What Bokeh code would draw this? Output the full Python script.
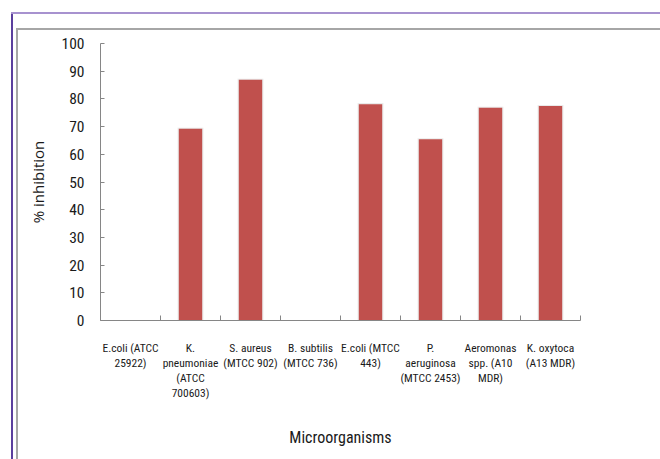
from bokeh.plotting import figure
from bokeh.models import FixedTicker, Range1d, ColumnDataSource
from bokeh.embed import file_html
from bokeh.resources import INLINE
import numpy as np

categories = [
    "E.coli (ATCC\n25922)",
    "K.\npneumoniae\n(ATCC\n700603)",
    "S. aureus\n(MTCC 902)",
    "B. subtilis\n(MTCC 736)",
    "E.coli (MTCC\n443)",
    "P.\naeruginosa\n(MTCC 2453)",
    "Aeromonas\nspp. (A10\nMDR)",
    "K. oxytoca\n(A13 MDR)",
]
inhibition = [0, 69.2, 86.9, 0, 78.1, 65.4, 76.8, 77.4]
y_ticks = [0, 10, 20, 30, 40, 50, 60, 70, 80, 90, 100]

n = len(categories)
pos = list(np.arange(n) + 0.5)
src = ColumnDataSource(dict(x=pos, y=inhibition,
                            top_h=[v + 0.4 if v > 0 else 0 for v in inhibition]))

p = figure(width=660, height=459, output_backend="svg", toolbar_location=None,
           x_range=Range1d(0, n), y_range=Range1d(0, 100),
           min_border_left=100, min_border_right=80, min_border_top=43, min_border_bottom=139)
p.outline_line_color = None
p.grid.grid_line_color = None
p.background_fill_color = "white"
p.border_fill_color = None
p.styles = {
    "background": (
        "linear-gradient(#A792CF,#A792CF) 11px 12px / 649px 2px no-repeat, "
        "linear-gradient(#5B3F9E,#5B3F9E) 11px 12px / 2px 447px no-repeat, "
        "linear-gradient(#A6A6A6,#A6A6A6) 16px 28px / 644px 2px no-repeat, "
        "linear-gradient(#A6A6A6,#A6A6A6) 16px 28px / 2px 431px no-repeat, "
        "white"
    )
}

# halo + bars
p.vbar(x="x", top="top_h", width=0.43, bottom=0, source=src,
       fill_color="#D0D0D0", fill_alpha=0.45, line_color=None)
p.vbar(x="x", top="y", width=0.39, bottom=0, source=src, fill_color="#C0504D", line_color=None)

font_lab = "'Liberation Sans Narrow', 'Roboto Condensed', Roboto"

xa = p.xaxis[0]
xa.ticker = FixedTicker(ticks=pos, minor_ticks=list(range(n + 1)))
xa.major_label_overrides = {float(x): c for x, c in zip(pos, categories)}
xa.major_tick_in = 0
xa.major_tick_out = 0
xa.minor_tick_in = 5
xa.minor_tick_out = 0
xa.minor_tick_line_color = "#868686"
xa.axis_line_color = "#868686"
xa.major_label_text_font = font_lab
xa.major_label_text_font_size = "11.5px"
xa.major_label_text_line_height = 1.08
xa.major_label_text_color = "#1a1a1a"
xa.major_label_standoff = 20
xa.axis_label = "Microorganisms"
xa.axis_label_text_font = font_lab
xa.axis_label_text_font_size = "16px"
xa.axis_label_text_font_style = "normal"
xa.axis_label_text_color = "#1a1a1a"
xa.axis_label_standoff = 25

ya = p.yaxis[0]
ya.ticker = FixedTicker(ticks=y_ticks, minor_ticks=[])
ya.major_tick_in = 4
ya.major_tick_out = 0
ya.major_tick_line_color = "#868686"
ya.axis_line_color = "#868686"
ya.major_label_text_font = font_lab
ya.major_label_text_font_size = "15.5px"
ya.major_label_text_color = "#1a1a1a"
ya.major_label_standoff = 16
ya.axis_label = "% inhibition"
ya.axis_label_text_font = "Open Sans"
ya.axis_label_text_font_size = "15px"
ya.axis_label_text_font_style = "normal"
ya.axis_label_text_color = "#1a1a1a"
ya.axis_label_standoff = 11

open("out.html", "w").write(file_html(p, INLINE))
